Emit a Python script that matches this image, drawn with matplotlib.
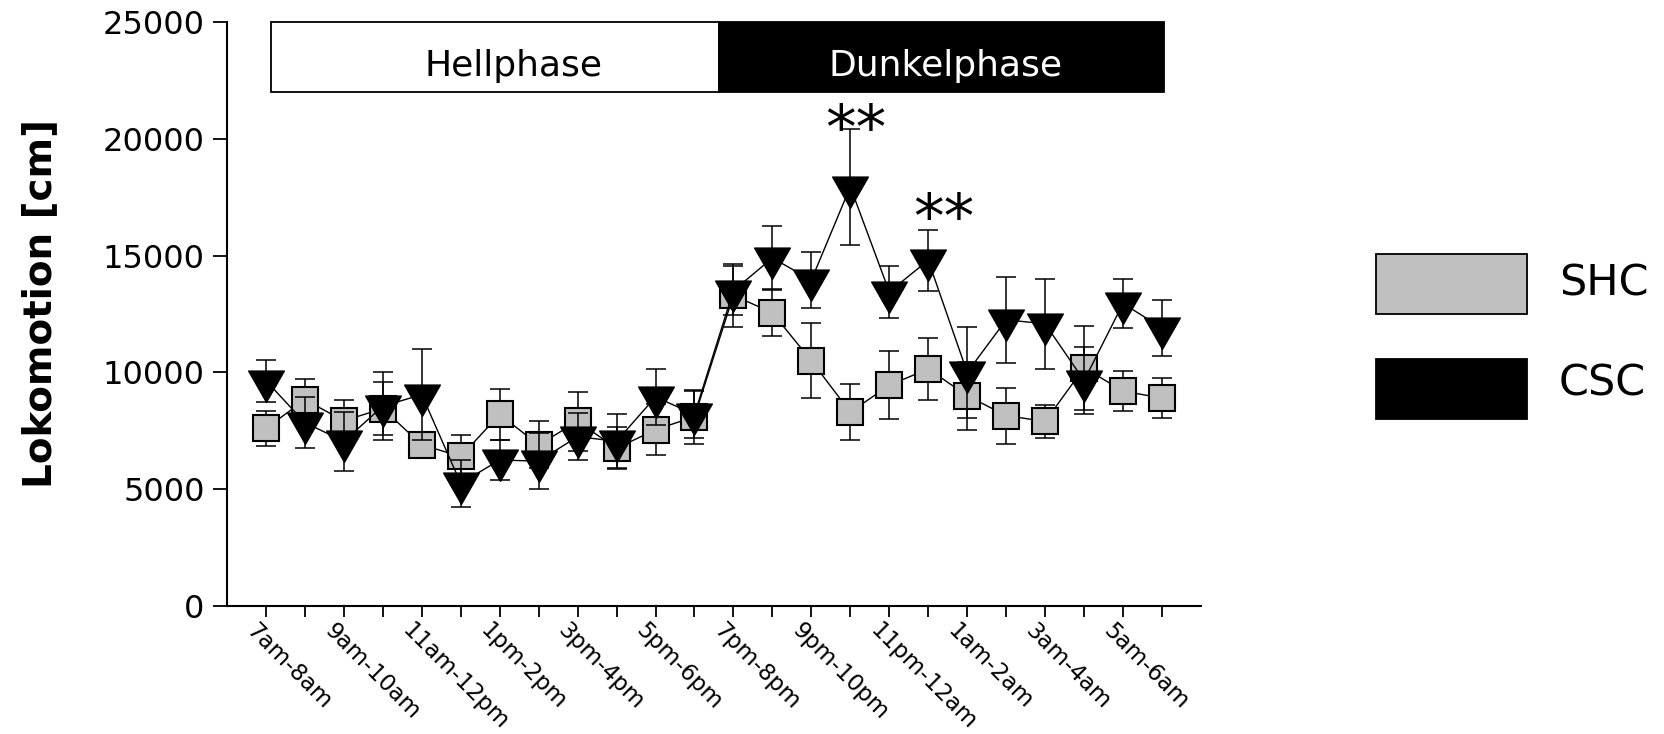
import numpy as np
import matplotlib
matplotlib.use("Agg")
import matplotlib.pyplot as plt
import matplotlib.transforms as mtransforms
from matplotlib.path import Path
from matplotlib.patches import Rectangle

# time slots (one hour each), label on every second slot
slots = ["7am-8am", "8am-9am", "9am-10am", "10am-11am", "11am-12pm", "12pm-1pm",
         "1pm-2pm", "2pm-3pm", "3pm-4pm", "4pm-5pm", "5pm-6pm", "6pm-7pm",
         "7pm-8pm", "8pm-9pm", "9pm-10pm", "10pm-11pm", "11pm-12am", "12am-1am",
         "1am-2am", "2am-3am", "3am-4am", "4am-5am", "5am-6am", "6am-7am"]

shc_mean = [7600, 8830, 7930, 8450, 6900, 6400, 8200, 6900, 7900, 6750, 7550, 8100,
            13300, 12550, 10500, 8300, 9450, 10150, 9000, 8150, 7900, 10200, 9200, 8900]
shc_sem = [750, 900, 900, 1150, 550, 900, 1100, 1000, 1250, 900, 1100, 1150,
           1350, 1000, 1600, 1200, 1450, 1330, 1450, 1200, 700, 1800, 870, 850]

csc_mean = [9650, 7850, 7050, 8550, 9050, 5250, 6250, 6200, 7250, 7050, 8950, 8200,
            13500, 14900, 13950, 17950, 13450, 14800, 10000, 12250, 12080, 9650, 12950, 11900]
csc_sem = [900, 1100, 1250, 1450, 1950, 1000, 850, 1200, 1000, 1150, 1200, 1000,
           1050, 1380, 1200, 2480, 1100, 1300, 1950, 1830, 1915, 1450, 1050, 1180]

signif = ["**", "**"]
signif_pos = [15, 17]

phases = ["Hellphase", "Dunkelphase"]

x = np.arange(len(slots))

# down triangle with its centroid at the data point (like Prism)
tri = Path([(-1, 0.583), (1, 0.583), (0, -1.167), (-1, 0.583)],
           [Path.MOVETO, Path.LINETO, Path.LINETO, Path.CLOSEPOLY])

fig = plt.figure(figsize=(16.65, 7.34), dpi=100)
ax = fig.add_axes([0.1363, 0.1744, 0.585, 0.7956])

# SHC
ax.errorbar(x, shc_mean, yerr=shc_sem, fmt="none", ecolor="black", elinewidth=1.1,
            capsize=7.5, capthick=1.1, zorder=2)
ax.plot(x, shc_mean, color="black", lw=1.0, marker="s", markersize=18.5,
        markerfacecolor="#c0c0c0", markeredgecolor="black", markeredgewidth=1.5, zorder=3)

# CSC
ax.errorbar(x, csc_mean, yerr=csc_sem, fmt="none", ecolor="black", elinewidth=1.1,
            capsize=7.5, capthick=1.1, zorder=4)
ax.plot(x, csc_mean, color="black", lw=1.0, marker=tri, markersize=30,
        markerfacecolor="black", markeredgecolor="black", zorder=5)

ax.set_xlim(-1, 24)
ax.set_ylim(0, 25000)
ax.set_yticks(np.arange(0, 25001, 5000))
ax.set_xticks(x)
ax.set_xticklabels([])
# slanted slot labels, every second slot
lab_tr = ax.get_xaxis_transform() + mtransforms.ScaledTranslation(-8 / 100, -13 / 100, fig.dpi_scale_trans)
for i in x[::2]:
    ax.text(i, 0, slots[i], transform=lab_tr, rotation=-45, rotation_mode="anchor",
            ha="left", va="top", fontsize=16.5, clip_on=False)
ax.tick_params(axis="y", labelsize=23, length=10, width=1.3, pad=6)
ax.tick_params(axis="x", length=8, width=1.3)
for side in ["top", "right"]:
    ax.spines[side].set_visible(False)
for side in ["left", "bottom"]:
    ax.spines[side].set_linewidth(1.5)

ax.set_ylabel("Lokomotion [cm]", fontsize=28, fontweight="bold")
ax.yaxis.set_label_coords(-0.172, 0.518)

# light / dark phase bar
ax.add_patch(Rectangle((0.12, 22000), 11.5, 3000, facecolor="white", edgecolor="black",
                       lw=1.3, clip_on=False, zorder=6))
ax.add_patch(Rectangle((11.62, 22000), 11.42, 3000, facecolor="black", edgecolor="black",
                       lw=1.3, clip_on=False, zorder=6))
ax.text(6.35, 23100, phases[0], fontsize=26, ha="center", va="center", color="black", zorder=7)
ax.text(17.45, 23100, phases[1], fontsize=26, ha="center", va="center", color="white", zorder=7)

# significance marks
for s, p, dx, dy in zip(signif, signif_pos, [0.15, 0.4], [-1400, -850]):
    ax.text(p + dx, csc_mean[p] + csc_sem[p] + dy, s,
            fontsize=44, ha="center", va="bottom", zorder=7)

# legend boxes
W, H = 1665, 734
fig.patches.append(Rectangle((1376 / W, 1 - 314 / H), 151 / W, 60 / H, transform=fig.transFigure,
                             facecolor="#c0c0c0", edgecolor="black", lw=1.3))
fig.patches.append(Rectangle((1376 / W, 1 - 419 / H), 151 / W, 60 / H, transform=fig.transFigure,
                             facecolor="black", edgecolor="black", lw=1.3))
fig.text(1559 / W, 1 - 284 / H, "SHC", fontsize=31, va="center", ha="left")
fig.text(1559 / W, 1 - 383 / H, "CSC", fontsize=31, va="center", ha="left")

fig.savefig("out.png", dpi=100)
